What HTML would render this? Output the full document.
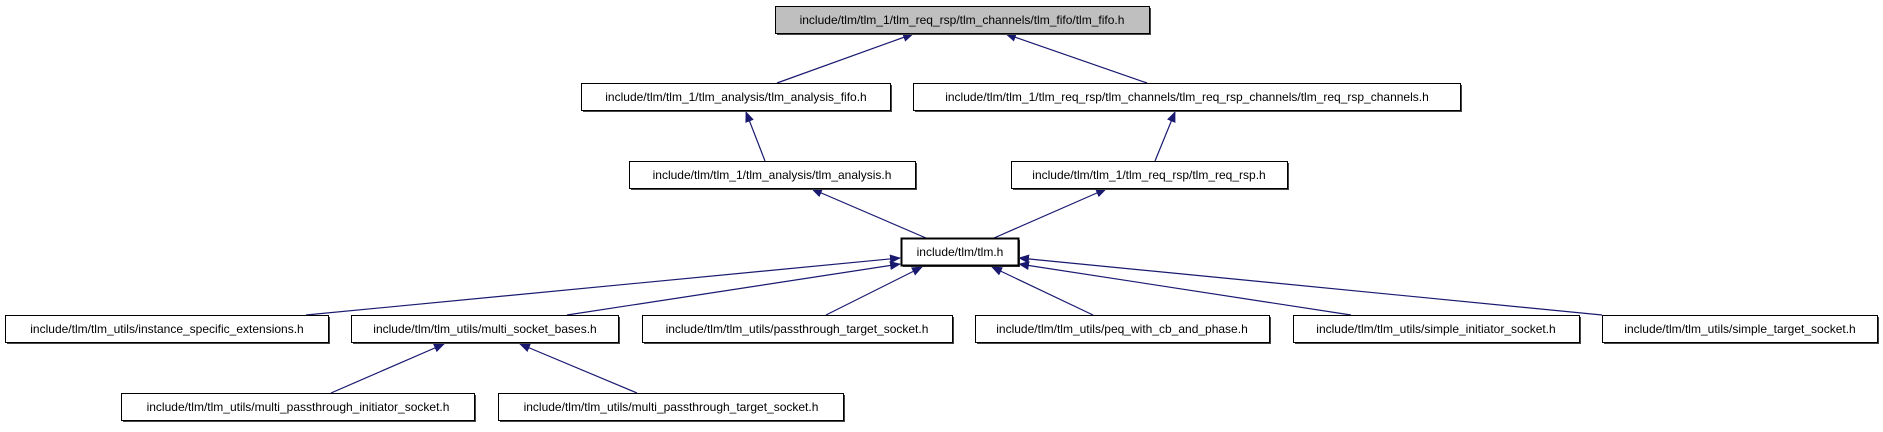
<!DOCTYPE html>
<html><head><style>body{margin:0;background:#fff}svg text{font-family:"Liberation Sans",Arial,sans-serif;font-size:12px}</style></head><body>
<svg width="1883" height="427" xmlns="http://www.w3.org/2000/svg">
<defs><marker id="a" markerWidth="11" markerHeight="9" refX="10" refY="4.5" orient="auto" markerUnits="userSpaceOnUse"><path d="M0,0 L11,4.5 L0,9 z" fill="#191970"/></marker></defs>
<g stroke="#191970" stroke-width="1.2" marker-end="url(#a)" fill="none">
<line x1="777" y1="83" x2="913" y2="34"/>
<line x1="1147" y1="83" x2="1006" y2="34"/>
<line x1="765" y1="161" x2="746" y2="112"/>
<line x1="1155" y1="161" x2="1175" y2="112"/>
<line x1="926" y1="238" x2="812" y2="189"/>
<line x1="994" y1="238" x2="1106" y2="189"/>
<line x1="306" y1="315" x2="900" y2="258"/>
<line x1="567" y1="315" x2="900" y2="264"/>
<line x1="826" y1="315" x2="922" y2="267"/>
<line x1="1093" y1="315" x2="992" y2="267"/>
<line x1="1351" y1="315" x2="1019" y2="264"/>
<line x1="1602" y1="315" x2="1019" y2="258"/>
<line x1="331" y1="393" x2="444" y2="344"/>
<line x1="637" y1="393" x2="520" y2="344"/>
</g>
<g fill="#444">
<rect x="777" y="8" width="374" height="27"/>
<rect x="583" y="85" width="309" height="27"/>
<rect x="915" y="85" width="547" height="27"/>
<rect x="631" y="163" width="286" height="27"/>
<rect x="1013" y="163" width="276" height="27"/>
<rect x="903" y="240" width="117" height="27"/>
<rect x="7" y="317" width="323" height="27"/>
<rect x="353" y="317" width="267" height="27"/>
<rect x="644" y="317" width="310" height="27"/>
<rect x="977" y="317" width="294" height="27"/>
<rect x="1295" y="317" width="286" height="27"/>
<rect x="1604" y="317" width="275" height="27"/>
<rect x="123" y="395" width="353" height="27"/>
<rect x="500" y="395" width="345" height="27"/>
</g>
<g stroke="#000" stroke-width="1">
<rect x="775.5" y="6.5" width="374" height="27" fill="#bfbfbf"/>
<rect x="581.5" y="83.5" width="309" height="27" fill="#fff"/>
<rect x="913.5" y="83.5" width="547" height="27" fill="#fff"/>
<rect x="629.5" y="161.5" width="286" height="27" fill="#fff"/>
<rect x="1011.5" y="161.5" width="276" height="27" fill="#fff"/>
<rect x="901.5" y="238.5" width="117" height="27" fill="#fff" stroke-width="2"/>
<rect x="5.5" y="315.5" width="323" height="27" fill="#fff"/>
<rect x="351.5" y="315.5" width="267" height="27" fill="#fff"/>
<rect x="642.5" y="315.5" width="310" height="27" fill="#fff"/>
<rect x="975.5" y="315.5" width="294" height="27" fill="#fff"/>
<rect x="1293.5" y="315.5" width="286" height="27" fill="#fff"/>
<rect x="1602.5" y="315.5" width="275" height="27" fill="#fff"/>
<rect x="121.5" y="393.5" width="353" height="27" fill="#fff"/>
<rect x="498.5" y="393.5" width="345" height="27" fill="#fff"/>
</g>
<g text-anchor="middle">
<text x="962" y="24">include/tlm/tlm_1/tlm_req_rsp/tlm_channels/tlm_fifo/tlm_fifo.h</text>
<text x="736" y="101">include/tlm/tlm_1/tlm_analysis/tlm_analysis_fifo.h</text>
<text x="1187" y="101">include/tlm/tlm_1/tlm_req_rsp/tlm_channels/tlm_req_rsp_channels/tlm_req_rsp_channels.h</text>
<text x="772" y="179">include/tlm/tlm_1/tlm_analysis/tlm_analysis.h</text>
<text x="1149" y="179">include/tlm/tlm_1/tlm_req_rsp/tlm_req_rsp.h</text>
<text x="960" y="256">include/tlm/tlm.h</text>
<text x="167" y="333">include/tlm/tlm_utils/instance_specific_extensions.h</text>
<text x="485" y="333">include/tlm/tlm_utils/multi_socket_bases.h</text>
<text x="797" y="333">include/tlm/tlm_utils/passthrough_target_socket.h</text>
<text x="1122" y="333">include/tlm/tlm_utils/peq_with_cb_and_phase.h</text>
<text x="1436" y="333">include/tlm/tlm_utils/simple_initiator_socket.h</text>
<text x="1740" y="333">include/tlm/tlm_utils/simple_target_socket.h</text>
<text x="298" y="411">include/tlm/tlm_utils/multi_passthrough_initiator_socket.h</text>
<text x="671" y="411">include/tlm/tlm_utils/multi_passthrough_target_socket.h</text>
</g>
</svg>
</body></html>
